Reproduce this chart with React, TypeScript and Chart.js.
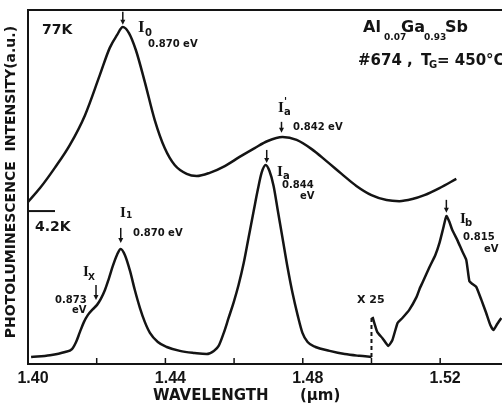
import React, { useEffect, useRef } from "react";
import { Chart, registerables } from "chart.js";

Chart.register(...registerables);

// ---- data (wavelength in µm, intensity in arbitrary units 0..100) ----
const UPPER_WL = [1.4, 1.4035, 1.4078, 1.4122, 1.4166, 1.4209, 1.4238, 1.4259, 1.4276, 1.4294, 1.4314, 1.434, 1.4369, 1.4398, 1.4427, 1.4462, 1.4491, 1.4529, 1.4573, 1.4616, 1.466, 1.4698, 1.4741, 1.4782, 1.4826, 1.4869, 1.4913, 1.4956, 1.5, 1.5044, 1.5081, 1.5119, 1.5154, 1.5198, 1.5247];
const UPPER_INT = [45.8, 49.7, 55.4, 61.9, 70.3, 81.6, 89.3, 92.9, 95.2, 93.5, 88.7, 79.7, 68.9, 61.0, 56.2, 53.7, 53.1, 54.0, 55.9, 58.5, 61.0, 63.0, 64.1, 63.3, 60.7, 57.3, 53.7, 50.3, 47.7, 46.3, 46.0, 46.6, 47.7, 49.7, 52.3];

const LOWER_WL = [1.4009, 1.4064, 1.4108, 1.4128, 1.414, 1.4151, 1.4163, 1.4174, 1.4189, 1.4201, 1.4212, 1.4224, 1.4235, 1.4247, 1.4259, 1.427, 1.4282, 1.4297, 1.4311, 1.4326, 1.434, 1.4355, 1.4378, 1.4404, 1.4442, 1.4485, 1.452, 1.4541, 1.4555, 1.457, 1.4584, 1.4599, 1.4613, 1.4628, 1.4642, 1.4657, 1.4669, 1.468, 1.4692, 1.4703, 1.4715, 1.4727, 1.4741, 1.4756, 1.477, 1.4785, 1.4799, 1.4814, 1.4837, 1.4878, 1.4922, 1.4965, 1.5];
const LOWER_INT = [2.0, 2.5, 3.4, 4.2, 6.2, 9.0, 11.9, 13.8, 15.5, 16.7, 18.4, 20.9, 24.0, 27.7, 30.8, 32.5, 30.8, 26.3, 20.9, 15.8, 11.9, 8.8, 6.2, 4.8, 3.7, 3.1, 2.8, 3.7, 5.1, 8.8, 13.0, 17.5, 22.3, 28.5, 35.6, 43.2, 49.2, 54.0, 56.2, 54.5, 50.3, 43.5, 35.6, 27.1, 20.1, 13.8, 8.8, 6.2, 4.8, 3.7, 2.8, 2.3, 2.0];

const JOIN_WL = [1.5, 1.5];
const JOIN_INT = [2.0, 13.3];

const X25_WL = [1.5003, 1.5017, 1.5032, 1.5049, 1.5061, 1.5076, 1.509, 1.511, 1.5131, 1.514, 1.5148, 1.5169, 1.5186, 1.5198, 1.5209, 1.5218, 1.5227, 1.5235, 1.525, 1.5264, 1.5276, 1.5285, 1.5294, 1.5305, 1.532, 1.5334, 1.5346, 1.5355, 1.5366, 1.5378];
const X25_INT = [13.3, 9.0, 7.3, 5.1, 6.8, 11.6, 13.0, 15.3, 18.9, 21.2, 22.9, 27.4, 30.8, 34.2, 38.4, 41.8, 40.1, 37.9, 35.0, 31.9, 29.4, 23.4, 22.6, 21.8, 18.1, 14.4, 11.0, 9.6, 11.3, 13.0];

const X_TICKS = [1.4, 1.44, 1.48, 1.52];
const X_MINOR = [1.42, 1.46, 1.5];
const SEPARATOR_INT = 43.2;

// peak arrows: wavelength, intensity of arrow tip
const ARROW_WL = [1.4276, 1.4738, 1.4695, 1.427, 1.4198, 1.5218];
const ARROW_TIP = [95.8, 65.3, 56.8, 34.2, 18.1, 42.7];

const INK = "#141414";
const SANS = '"DejaVu Sans", sans-serif';
const ARIAL = '"Liberation Sans", sans-serif';
const SERIF = '"Liberation Serif", serif';

const pts = (xs: number[], ys: number[]) => xs.map((x, i) => ({ x, y: ys[i] }));

function txt(ctx: CanvasRenderingContext2D, s: string, x: number, y: number, size: number, fam = SANS) {
  ctx.font = `bold ${size}px ${fam}`;
  ctx.textAlign = "left";
  ctx.textBaseline = "middle";
  ctx.fillText(s, x, y);
}

const annotPlugin = {
  id: "annot",
  afterDraw(chart: any) {
    const { ctx, chartArea, scales } = chart;
    const xs = scales.x;
    const ys = scales.y;
    ctx.save();
    ctx.strokeStyle = INK;
    ctx.fillStyle = INK;
    // top frame
    ctx.lineWidth = 2;
    ctx.beginPath();
    ctx.moveTo(chartArea.left - 1, chartArea.top);
    ctx.lineTo(chartArea.right, chartArea.top);
    ctx.stroke();
    // inward ticks
    ctx.lineWidth = 1.5;
    [...X_TICKS, ...X_MINOR].forEach((v) => {
      const px = xs.getPixelForValue(v);
      if (px <= chartArea.left + 2 || px >= chartArea.right) return;
      ctx.beginPath();
      ctx.moveTo(px, chartArea.bottom);
      ctx.lineTo(px, chartArea.bottom - 6);
      ctx.stroke();
    });
    // separator on left axis
    const sy = ys.getPixelForValue(SEPARATOR_INT);
    ctx.lineWidth = 2;
    ctx.beginPath();
    ctx.moveTo(chartArea.left, sy);
    ctx.lineTo(chartArea.left + 27, sy);
    ctx.stroke();
    // arrows
    const lens = [13, 11, 13, 15, 15, 13];
    ctx.lineWidth = 1.5;
    ARROW_WL.forEach((w, i) => {
      const ax = xs.getPixelForValue(w);
      const tip = ys.getPixelForValue(ARROW_TIP[i]);
      ctx.beginPath();
      ctx.moveTo(ax, tip - lens[i]);
      ctx.lineTo(ax, tip - 3);
      ctx.stroke();
      ctx.beginPath();
      ctx.moveTo(ax - 2.5, tip - 5);
      ctx.lineTo(ax, tip);
      ctx.lineTo(ax + 2.5, tip - 5);
      ctx.closePath();
      ctx.fill();
    });
    // temperature labels
    txt(ctx, "77K", 42, 30, 14);
    txt(ctx, "4.2K", 35, 227, 14);
    // composition
    txt(ctx, "Al", 363, 28, 16);
    txt(ctx, "0.07", 384, 38, 9);
    txt(ctx, "Ga", 401, 28, 16);
    txt(ctx, "0.93", 424, 38, 9);
    txt(ctx, "Sb", 445, 28, 16);
    txt(ctx, "#674 ,", 358, 61, 15);
    txt(ctx, "T", 421, 61, 15);
    txt(ctx, "G", 429, 65, 10);
    txt(ctx, "= 450°C", 437, 61, 15);
    // peak labels
    txt(ctx, "I", 138, 28, 17, SERIF);
    txt(ctx, "0", 145, 33, 10);
    txt(ctx, "0.870 eV", 148, 44, 10);

    txt(ctx, "I", 278, 108, 15, SERIF);
    txt(ctx, "'", 284, 102, 10);
    txt(ctx, "a", 284, 112, 10);
    txt(ctx, "0.842 eV", 293, 127, 10);

    txt(ctx, "I", 277, 172, 15, SERIF);
    txt(ctx, "a", 283, 176, 10);
    txt(ctx, "0.844", 282, 185, 10);
    txt(ctx, "eV", 300, 196, 10);

    txt(ctx, "I", 120, 213, 15, SERIF);
    txt(ctx, "1", 126, 216, 9);
    txt(ctx, "0.870 eV", 133, 233, 10);

    txt(ctx, "I", 83, 272, 15, SERIF);
    txt(ctx, "X", 88, 278, 9);
    txt(ctx, "0.873", 55, 300, 10);
    txt(ctx, "eV", 72, 310, 10);

    txt(ctx, "I", 460, 219, 15, SERIF);
    txt(ctx, "b", 465, 223, 10);
    txt(ctx, "0.815", 463, 237, 10);
    txt(ctx, "eV", 484, 249, 10);

    txt(ctx, "X 25", 357, 300, 11);
    ctx.restore();
  },
};

export default function App() {
  const ref = useRef<HTMLCanvasElement | null>(null);
  useEffect(() => {
    if (!ref.current) return;
    Chart.defaults.font.family = SANS;
    Chart.defaults.color = INK;
    const lineDs = (data: any[], extra: any = {}) => ({
      data,
      borderColor: INK,
      borderWidth: 2.5,
      pointRadius: 0,
      fill: false,
      cubicInterpolationMode: "monotone",
      ...extra,
    });
    const chart = new Chart(ref.current, {
      type: "line",
      data: {
        datasets: [
          lineDs(pts(UPPER_WL, UPPER_INT), { label: "77K" }),
          lineDs(pts(LOWER_WL, LOWER_INT), { label: "4.2K" }),
          lineDs(pts(JOIN_WL, JOIN_INT), { label: "join", borderDash: [4, 3], borderWidth: 2, cubicInterpolationMode: "default", tension: 0 }),
          lineDs(pts(X25_WL, X25_INT), { label: "4.2K x25", cubicInterpolationMode: "default", tension: 0.15 }),
        ],
      },
      options: {
        animation: false,
        responsive: false,
        layout: { padding: { top: 10, right: 0, left: 0, bottom: 0 } },
        plugins: { legend: { display: false }, tooltip: { enabled: false } },
        scales: {
          x: {
            type: "linear",
            min: 1.4,
            max: 1.538,
            afterFit: (s: any) => { s.height = 42; },
            afterBuildTicks: (s: any) => { s.ticks = X_TICKS.map((v) => ({ value: v })); },
            grid: { drawOnChartArea: false, drawTicks: false },
            border: { display: true, color: INK, width: 2 },
            ticks: {
              callback: (v: any) => Number(v).toFixed(2),
              font: { size: 16, weight: "bold", family: ARIAL },
              color: INK,
              padding: 5,
              labelOffset: 5,
              maxRotation: 0,
              autoSkip: false,
            },
            title: {
              display: true,
              text: "WAVELENGTH      (µm)       ",
              font: { size: 15, weight: "bold" },
              color: INK,
              padding: { top: 0, bottom: 1 },
            },
          },
          y: {
            min: 0,
            max: 100,
            afterFit: (s: any) => { s.width = 28; },
            grid: { drawOnChartArea: false, drawTicks: false },
            border: { display: true, color: INK, width: 2 },
            ticks: { display: false },
            title: {
              display: true,
              text: "  PHOTOLUMINESCENCE  INTENSITY(a.u.)",
              font: { size: 14, weight: "bold" },
              color: INK,
              padding: { top: 3, bottom: 0 },
            },
          },
        },
      },
      plugins: [annotPlugin],
    } as any);
    return () => chart.destroy();
  }, []);
  return (
    <div style={{ position: "fixed", left: 0, top: 0, width: 502, height: 406, background: "#fff" }}>
      <canvas ref={ref} width={502} height={406} style={{ display: "block" }} />
    </div>
  );
}
